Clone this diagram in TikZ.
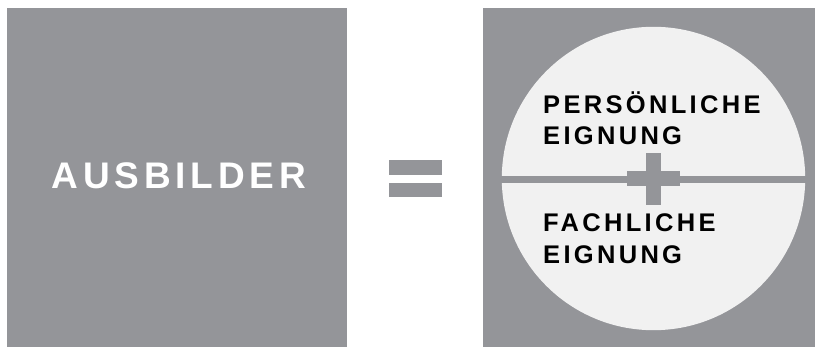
\documentclass[tikz,border=0pt]{standalone}
\usepackage{fontspec}
\setmainfont{Liberation Sans}
\newfontfamily\spacedbold[LetterSpace=13]{Liberation Sans Bold}
\definecolor{boxgray}{RGB}{148,149,153}
\definecolor{circfill}{RGB}{241,241,241}
\tikzset{
  panel/.style={fill=boxgray, draw=none},
  bigtext/.style={anchor=base west, inner sep=0pt, text=white, font=\spacedbold\fontsize{37}{37}\selectfont},
  smalltext/.style={anchor=base west, inner sep=0pt, text=black, font=\spacedbold\fontsize{25.5}{25.5}\selectfont},
}
\begin{document}
\begin{tikzpicture}[x=1pt,y=-1pt]
\useasboundingbox (0,0) rectangle (815,347);
\fill[white] (0,0) rectangle (815,347);
% left panel
\fill[panel] (7,8) rectangle (347,347);
\node[bigtext] (ausbilder) at (51.5,188.3) {AUSBILDER};
% equals sign
\fill[panel] (389,160) rectangle (441.7,174.7);
\fill[panel] (389,182.7) rectangle (441.7,197.3);
% right panel
\fill[panel] (483.3,8) rectangle (815,347);
\fill[circfill] (653.5,178.5) circle (151.7);
\fill[panel] (501,176.1) rectangle (806,182.6);
\fill[panel] (645.8,152.7) rectangle (661.2,205);
\fill[panel] (626.7,171.2) rectangle (680.3,186.2);
\node[smalltext] (p1) at (543,113.3) {PERSÖNLICHE};
\node[smalltext] (p2) at (543,144.3) {EIGNUNG};
\node[smalltext] (f1) at (543,231.7) {FACHLICHE};
\node[smalltext] (f2) at (543,263.3) {EIGNUNG};
\end{tikzpicture}
\end{document}
